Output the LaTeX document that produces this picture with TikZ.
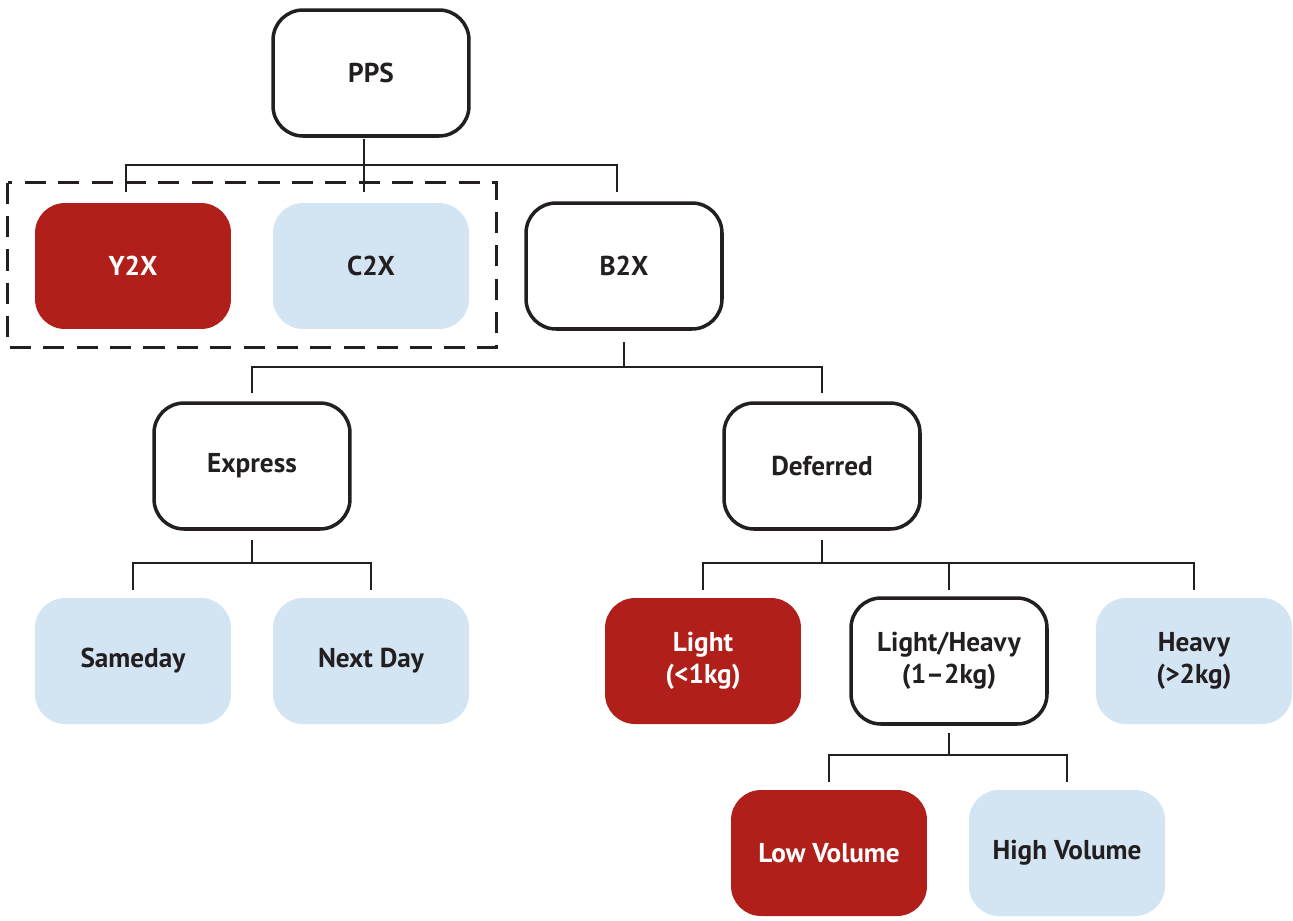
\documentclass[tikz,border=0pt]{standalone}
\usepackage{fontspec}
\setmainfont{PT Sans}
\usetikzlibrary{positioning}
\definecolor{darkred}{HTML}{B01F1A}
\definecolor{paleblue}{HTML}{D3E4F3}
\definecolor{ink}{HTML}{231F20}
\begin{document}
\begin{tikzpicture}[x=0.02cm, y=-0.02cm,
        every node/.style={rounded corners=0.6cm, minimum width=3.92cm, minimum height=2.52cm, align=center, font=\fontsize{15.5}{18}\selectfont\bfseries, text=ink},
        plain/.style={draw=ink, line width=2pt, fill=white},
        red/.style={fill=darkred, text=white},
        blue/.style={fill=paleblue},
        conn/.style={draw=ink, line width=1.1pt}]
        \useasboundingbox (0,0) rectangle (1293,920);

        \node[plain] (pps) at (371,73) {PPS};
        \node[red] (y2x) at (133,266) {Y2X};
        \node[blue] (c2x) at (371,266) {C2X};
        \node[plain] (b2x) at (624,266) {B2X};
        \node[plain] (express) at (252,466) {Express};
        \node[plain] (deferred) at (822,466) {Deferred};
        \node[blue] (sameday) at (133,661) {Sameday};
        \node[blue] (nextday) at (371,661) {Next Day};
        \node[red] (light) at (703,661) {Light\\(<1kg)};
        \node[plain] (lightheavy) at (949,661) {Light/Heavy\\(1--2kg)};
        \node[blue] (heavy) at (1194,661) {Heavy\\(>2kg)};
        \node[red] (lowvol) at (829,853) {Low Volume};
        \node[blue] (highvol) at (1067,853) {High Volume};

        \draw[line width=1.7pt, dash pattern=on 12pt off 7pt, draw=ink]
            ([shift={(-27,-20)}]y2x.north west) rectangle ([shift={(27,18)}]c2x.south east);

        % PPS
        \draw[conn] ([xshift=-0.14cm]pps.south |- 0,139) -- ([xshift=-0.14cm]pps.south |- 0,165);
        \draw[conn] ([xshift=-0.14cm]y2x.north |- 0,192) |- ([xshift=-0.14cm]b2x.north |- 0,165) -- ([xshift=-0.14cm]b2x.north |- 0,192);
        \draw[conn] ([xshift=-0.14cm]c2x.north |- 0,165) -- ([xshift=-0.14cm]c2x.north |- 0,192);
        % B2X
        \draw[conn] (b2x |- 0,342) -- (b2x |- 0,367);
        \draw[conn] (express |- 0,393) |- (deferred |- 0,367) -- (deferred |- 0,393);
        % Express
        \draw[conn] (express |- 0,540) -- (express |- 0,563);
        \draw[conn] (sameday |- 0,590) |- (nextday |- 0,563) -- (nextday |- 0,590);
        % Deferred
        \draw[conn] (deferred |- 0,540) -- (deferred |- 0,563);
        \draw[conn] (light |- 0,590) |- (heavy |- 0,563) -- (heavy |- 0,590);
        \draw[conn] (lightheavy |- 0,563) -- (lightheavy |- 0,590);
        % Light/Heavy
        \draw[conn] (lightheavy |- 0,733) -- (lightheavy |- 0,755);
        \draw[conn] (lowvol |- 0,782) |- (highvol |- 0,755) -- (highvol |- 0,782);
    \end{tikzpicture}
\end{document}
